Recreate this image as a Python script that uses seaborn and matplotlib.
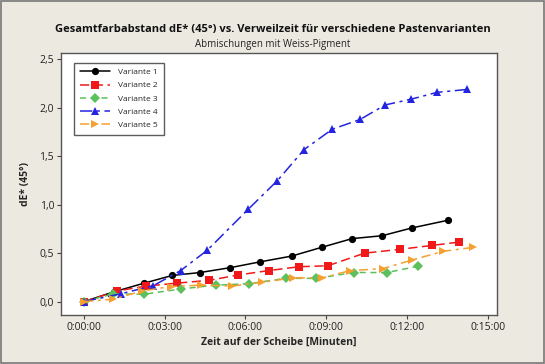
import matplotlib
matplotlib.use("Agg")
import matplotlib.pyplot as plt
import seaborn as sns
import pandas as pd

# time in minutes, dE* values
t1 = [0, 1.1, 2.23, 3.28, 4.31, 5.43, 6.54, 7.72, 8.83, 9.96, 11.08, 12.18, 13.53]
v1 = [0, 0.10, 0.19, 0.27, 0.30, 0.35, 0.41, 0.47, 0.56, 0.65, 0.68, 0.76, 0.84]
t2 = [0, 1.24, 2.30, 3.44, 4.66, 5.74, 6.86, 8.0, 9.06, 10.43, 11.75, 12.95, 13.95]
v2 = [0, 0.11, 0.16, 0.19, 0.22, 0.275, 0.32, 0.36, 0.37, 0.50, 0.54, 0.58, 0.615]
t3 = [0, 1.09, 2.23, 3.59, 4.89, 6.13, 7.49, 8.63, 10.03, 11.26, 12.42]
v3 = [0, 0.08, 0.076, 0.13, 0.17, 0.185, 0.24, 0.24, 0.30, 0.30, 0.365]
t4 = [0, 1.36, 2.58, 3.59, 4.58, 6.11, 7.19, 8.18, 9.23, 10.26, 11.19, 12.16, 13.12, 14.23]
v4 = [0, 0.08, 0.165, 0.32, 0.53, 0.955, 1.25, 1.57, 1.78, 1.88, 2.03, 2.09, 2.16, 2.19]
t5 = [0, 1.09, 2.17, 3.22, 4.34, 5.49, 6.63, 7.78, 8.86, 9.89, 11.1, 12.2, 13.36, 14.47]
v5 = [0, 0.025, 0.11, 0.155, 0.17, 0.16, 0.20, 0.245, 0.245, 0.32, 0.34, 0.43, 0.52, 0.56]

names = ["Variante 1", "Variante 2", "Variante 3", "Variante 4", "Variante 5"]
xticks = [0, 3, 6, 9, 12, 15]
xticklabels = ["0:00:00", "0:03:00", "0:06:00", "0:09:00", "0:12:00", "0:15:00"]
yticks = [0, 0.5, 1.0, 1.5, 2.0, 2.5]
yticklabels = ["0,0", "0,5", "1,0", "1,5", "2,0", "2,5"]

rows = []
for n, ts, vs in zip(names, [t1, t2, t3, t4, t5], [v1, v2, v3, v4, v5]):
    for t, v in zip(ts, vs):
        rows.append({"Zeit": t, "dE": v, "Variante": n})
df = pd.DataFrame(rows)

sns.set_style("white")
plt.rcParams['font.family'] = ['Open Sans', 'DejaVu Sans']

bg = "#ECE9E0"
fig = plt.figure(figsize=(5.45, 3.64), dpi=100, facecolor=bg)
ax = fig.add_axes([0.112, 0.135, 0.800, 0.719])
ax.set_facecolor("white")

palette = {"Variante 1": "black", "Variante 2": "#F01818", "Variante 3": "#5CC05C",
           "Variante 4": "#2424E0", "Variante 5": "#F5A030"}
markers = {"Variante 1": "o", "Variante 2": "s", "Variante 3": "D",
           "Variante 4": "^", "Variante 5": ">"}
dashes = {"Variante 1": "", "Variante 2": (6, 3), "Variante 3": (4, 3),
          "Variante 4": (8, 3, 2, 3), "Variante 5": (6, 3, 2, 3)}

sns.lineplot(data=df, x="Zeit", y="dE", hue="Variante", style="Variante",
             palette=palette, markers=markers, dashes=dashes, sort=False,
             linewidth=1.1, markersize=5.2, markeredgewidth=0, ax=ax)

ax.set_xlim(-0.855, 15.35)
ax.set_ylim(-0.137, 2.565)
ax.set_xticks(xticks)
ax.set_xticklabels(xticklabels)
ax.set_yticks(yticks)
ax.set_yticklabels(yticklabels)
ax.tick_params(axis="both", labelsize=7.5, direction="out", length=3, width=0.8,
               color="#444444", labelcolor="#222222", bottom=True, left=True, pad=2)
for s in ax.spines.values():
    s.set_color("#555555")
    s.set_linewidth(1.0)

ax.set_xlabel("Zeit auf der Scheibe [Minuten]", fontsize=7.5, fontweight="bold", labelpad=3)
ax.set_ylabel("dE* (45°)", fontsize=7.5, fontweight="bold", labelpad=6)

leg = ax.legend(loc="upper left", bbox_to_anchor=(0.02, 0.98), fontsize=6.0,
                frameon=True, fancybox=False, edgecolor="#333333",
                handlelength=3.6, handletextpad=1.0, borderpad=0.7, labelspacing=0.65,
                markerscale=1.0)
leg.get_frame().set_linewidth(1.0)

fig.text(0.5, 0.918, "Gesamtfarbabstand dE* (45°) vs. Verweilzeit für verschiedene Pastenvarianten",
         ha="center", va="center", fontsize=8.0, fontweight="bold", color="#111111")
fig.text(0.5, 0.878, "Abmischungen mit Weiss-Pigment", ha="center", va="center",
         fontsize=7.0, color="#222222")

fig.patches.append(plt.Rectangle((0.002, 0.003), 0.996, 0.994, transform=fig.transFigure,
                                 fill=False, edgecolor="#777777", linewidth=1.2))

fig.savefig("out.png", dpi=100, facecolor=bg)
